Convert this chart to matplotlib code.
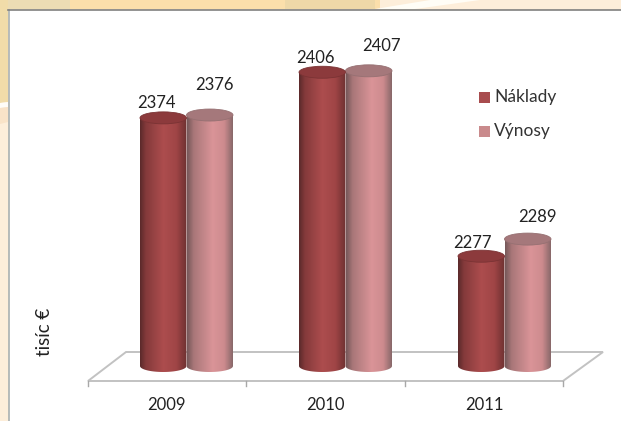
import matplotlib
matplotlib.use("Agg")
import matplotlib.pyplot as plt
import numpy as np
from matplotlib.colors import LinearSegmentedColormap
from matplotlib.patches import Ellipse, Polygon, Rectangle

years = ["2009", "2010", "2011"]
naklady = [2374, 2406, 2277]
vynosy = [2376, 2407, 2289]

W, H = 621, 421
PX_PER_UNIT = 1.426
BASE_PX = 366  # pixel row of the cylinder base
AX_LEFT, AX_RIGHT = 87, 564
DEPTH = 20
Y_BASE = 2200
Y_BOTTOM = 2190

plt.rcParams["font.family"] = ["Lato", "DejaVu Sans"]

fig = plt.figure(figsize=(W / 100, H / 100), dpi=100, facecolor="#fdeeda")


def px(x, y):
    return (x / W, 1 - y / H)


def fig_poly(points, **kw):
    fig.add_artist(Polygon([px(*p) for p in points], closed=True, transform=fig.transFigure, **kw))


# background behind the panel
fig_poly([(0, 0), (380, 0), (380, 9), (0, 9)], facecolor="#fbdfab", edgecolor="none")
fig_poly([(0, 0), (70, 0), (70, 9), (0, 9)], facecolor="#ecdcb4", edgecolor="none")
fig_poly([(285, 0), (375, 0), (375, 9), (285, 9)], facecolor="#eed8a8", edgecolor="none")
fig_poly([(0, 0), (8, 0), (8, 102), (0, 103)], facecolor="#f1dca9", edgecolor="none")
fig_poly([(0, 103), (8, 102), (8, 107), (0, 108)], facecolor="#fffdf8", edgecolor="none")
fig_poly([(0, 108), (8, 107), (8, 122), (0, 124)], facecolor="#f9e3c8", edgecolor="none")
fig_poly([(375, 9), (430, 0), (480, 0), (415, 9)], facecolor="#fffdf6", edgecolor="none")

# white panel, its right and bottom edges run off the picture
fig_poly([(8.5, 9.5), (630, 9.5), (630, 430), (8.5, 430)], facecolor="white", edgecolor="none")
fig.add_artist(plt.Line2D([8.5 / W, 8.5 / W], [1 - 9.5 / H, 0], color="#a9b0b0", linewidth=1.2, transform=fig.transFigure))
fig.add_artist(plt.Line2D([8 / W, 1], [1 - 9.5 / H, 1 - 9.5 / H], color="#80807f", linewidth=1.2, transform=fig.transFigure))

# floor of the chart
fig_poly([(88, 381), (563, 381), (603, 352), (126, 352)], facecolor="white", edgecolor="#c2c2c2", linewidth=1.4)
for tick_x in [88, 246, 405, 563]:
    fig.add_artist(plt.Line2D([tick_x / W, tick_x / W], [1 - 381 / H, 1 - 386 / H], color="#a8a8a8", linewidth=1,
                              transform=fig.transFigure))

bottom_px = BASE_PX + (Y_BASE - Y_BOTTOM) * PX_PER_UNIT
ax = fig.add_axes([AX_LEFT / W, 1 - bottom_px / H, (AX_RIGHT - AX_LEFT) / W, 350 / H], zorder=5)
y_limits = (Y_BOTTOM, Y_BOTTOM + 350 / PX_PER_UNIT)
ax.axis("off")
ax.patch.set_alpha(0)

x_unit = (AX_RIGHT - AX_LEFT) / 3  # pixels per category
bar_w = 46.5 / x_unit
ell_h = 12 / PX_PER_UNIT

cmap_n = LinearSegmentedColormap.from_list(
    "naklady", [(0, "#5c2a2b"), (0.12, "#843a3b"), (0.5, "#ad4d4e"), (0.78, "#a04546"), (1, "#6e3131")]
)
cmap_v = LinearSegmentedColormap.from_list(
    "vynosy", [(0, "#77595a"), (0.14, "#a97779"), (0.55, "#da9498"), (0.8, "#cd8b8e"), (1, "#826566")]
)


def cylinder(cx, value, cmap, top_color, top_edge, order):
    left, right = cx - bar_w / 2, cx + bar_w / 2
    t = np.linspace(np.pi, 2 * np.pi, 40)
    arc_x = cx + bar_w / 2 * np.cos(t)
    arc_y = Y_BASE + ell_h / 2 * np.sin(t)
    outline = np.vstack([[left, value], np.column_stack([arc_x, arc_y]), [right, value]])
    body = Polygon(outline, closed=True, facecolor="none", edgecolor="none")
    ax.add_patch(body)
    img = ax.imshow(np.linspace(0, 1, 64).reshape(1, -1), cmap=cmap, aspect="auto", interpolation="bilinear",
                    extent=(left, right, Y_BOTTOM, value), zorder=order)
    img.set_clip_path(body)
    ax.add_patch(Ellipse((cx, value), bar_w, ell_h, facecolor=top_color, edgecolor=top_edge, linewidth=0.6,
                         zorder=order + 0.1, clip_on=False))


# shifted right of the slot centre by the floor depth
group_x = np.arange(3) + 0.5 + DEPTH / x_unit
label_offsets_n = [(-7, 15), (-7, 14), (-9, 13)]
label_offsets_v = [(5, 30), (13, 25), (10, 22)]

for i in range(3):
    cylinder(group_x[i] + bar_w / 2, vynosy[i], cmap_v, "#a5787b", "#967072", 2)
    cylinder(group_x[i] - bar_w / 2, naklady[i], cmap_n, "#8c3a3c", "#7a3334", 3)
    for off, val, side in ((label_offsets_n[i], naklady[i], -1), (label_offsets_v[i], vynosy[i], 1)):
        ax.annotate(str(val), (group_x[i] + side * bar_w / 2, val), xytext=(off[0] * 0.72, off[1] * 0.72),
                    textcoords="offset points", ha="center", va="center", fontsize=12, color="#222222",
                    annotation_clip=False, zorder=5)

ax.set_xlim(0, 3)
ax.set_ylim(*y_limits)

for i, year in enumerate(years):
    fig.text(*px(AX_LEFT + x_unit * (i + 0.5), 405), year, ha="center", va="center", fontsize=12, color="#222222")

fig.text(*px(45, 332), "tisíc €", rotation=90, ha="center", va="center", fontsize=13.5, color="#222222")

# legend
for y, color, label in ((97, "#a84c4e", "Náklady"), (131, "#c98a8c", "Výnosy")):
    fig.add_artist(Rectangle(px(479, y + 5.5), 11 / W, 11 / H, facecolor=color, edgecolor="none",
                             transform=fig.transFigure))
    fig.text(*px(494, y), label, ha="left", va="center", fontsize=12.5, color="#333333")

fig.savefig("out.png", dpi=100, facecolor=fig.get_facecolor())
